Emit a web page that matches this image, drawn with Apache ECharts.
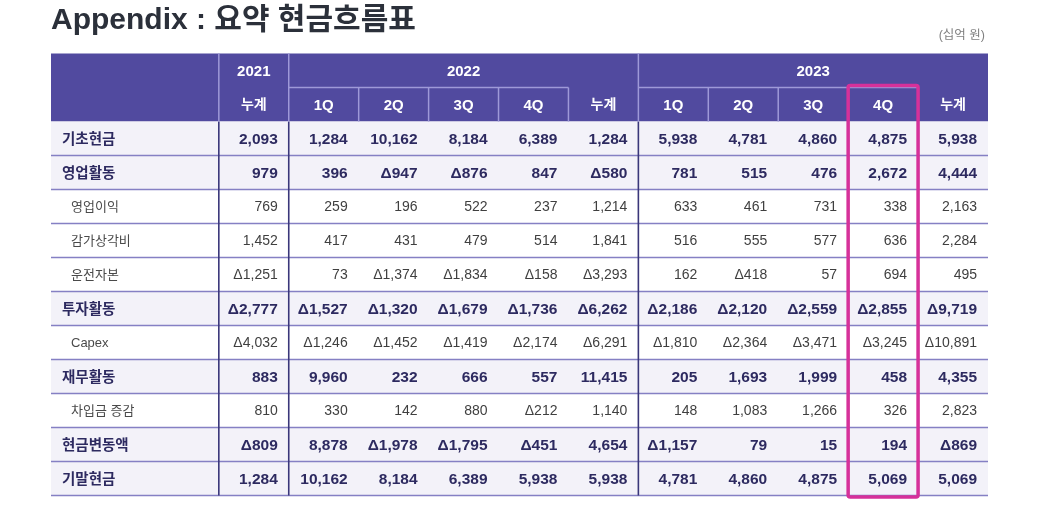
<!DOCTYPE html>
<html>
<head>
<meta charset="utf-8">
<script src="https://cdn.jsdelivr.net/npm/echarts@6/dist/echarts.min.js"></script>
<style>
html, body { margin: 0; padding: 0; background: #fff; }
#main { width: 1039px; height: 512px; }
</style>
</head>
<body>
<div id="main"></div>
<script>
// 표 데이터 (십억 원, 음수는 Δ 로 표시)
var yearLabels = ['2021', '2022', '2023'];
var yearSpans = [1, 5, 5];
var periodLabels = ['누계', '1Q', '2Q', '3Q', '4Q', '누계', '1Q', '2Q', '3Q', '4Q', '누계'];
var rowLabels = ['기초현금', '영업활동', '영업이익', '감가상각비', '운전자본', '투자활동', 'Capex', '재무활동', '차입금 증감', '현금변동액', '기말현금'];
var boldRows = [1, 1, 0, 0, 0, 1, 0, 1, 0, 1, 1];

var openingCash   = [2093, 1284, 10162, 8184, 6389, 1284, 5938, 4781, 4860, 4875, 5938];
var operating     = [979, 396, -947, -876, 847, -580, 781, 515, 476, 2672, 4444];
var opIncome      = [769, 259, 196, 522, 237, 1214, 633, 461, 731, 338, 2163];
var depreciation  = [1452, 417, 431, 479, 514, 1841, 516, 555, 577, 636, 2284];
var workingCap    = [-1251, 73, -1374, -1834, -158, -3293, 162, -418, 57, 694, 495];
var investing     = [-2777, -1527, -1320, -1679, -1736, -6262, -2186, -2120, -2559, -2855, -9719];
var capex         = [-4032, -1246, -1452, -1419, -2174, -6291, -1810, -2364, -3471, -3245, -10891];
var financing     = [883, 9960, 232, 666, 557, 11415, 205, 1693, 1999, 458, 4355];
var borrowings    = [810, 330, 142, 880, -212, 1140, 148, 1083, 1266, 326, 2823];
var cashChange    = [-809, 8878, -1978, -1795, -451, 4654, -1157, 79, 15, 194, -869];
var closingCash   = [1284, 10162, 8184, 6389, 5938, 5938, 4781, 4860, 4875, 5069, 5069];

var tableValues = [openingCash, operating, opIncome, depreciation, workingCap, investing,
  capex, financing, borrowings, cashChange, closingCash];
var highlightCol = 9; // 2023 4Q

var LABEL_W = 2.4;   // 항목 열 너비 (열 단위)
var HEAD_ROWS = 2;
var FONT = "'Liberation Sans', 'Noto Sans CJK KR', sans-serif";
var PURPLE = '#514a9f';

function fmt(v) {
  return (v < 0 ? 'Δ' : '') + Math.abs(v).toLocaleString('en-US');
}

// 셀 데이터
var rowBgData = rowLabels.map(function (l, i) { return [i, boldRows[i]]; });
var cellData = [];
tableValues.forEach(function (row, r) {
  row.forEach(function (v, c) { cellData.push([c, r, v, boldRows[r]]); });
});
var headerData = [];
var start = 0;
yearLabels.forEach(function (y, i) {
  headerData.push({ value: [start, start + yearSpans[i], 0, 1], name: y });
  start += yearSpans[i];
});
periodLabels.forEach(function (p, c) {
  headerData.push({ value: [c, c + 1, 1, 2], name: p });
});

// 선: [x0, y0, x1, y1, 종류]
var lineData = [];
for (var r = 1; r <= rowLabels.length; r++) {
  lineData.push([-LABEL_W, HEAD_ROWS + r, 11, HEAD_ROWS + r, 0]);
}
[0, 1, 6].forEach(function (x) {
  lineData.push([x, HEAD_ROWS, x, HEAD_ROWS + rowLabels.length, 1]);
  lineData.push([x, 0, x, HEAD_ROWS, 2]);
});
[2, 3, 4, 5, 7, 8, 9, 10].forEach(function (x) {
  lineData.push([x, 1, x, 2, 2]);
});
lineData.push([1, 1, 5, 1, 2]);
lineData.push([6, 1, 10, 1, 2]);

var lineStyles = [
  { stroke: '#8580c4', lineWidth: 1.6 },
  { stroke: '#3a377a', lineWidth: 1.6 },
  { stroke: '#9e99d8', lineWidth: 1.5 }
];

var myChart = echarts.init(document.getElementById('main'));
var option = {
  animation: false,
  title: [{
    text: 'Appendix : 요약 현금흐름표',
    left: 46,
    top: 1,
    textStyle: { fontSize: 30, fontWeight: 'bold', color: '#2b303a', fontFamily: FONT }
  }, {
    text: '(십억 원)',
    right: 49,
    top: 24,
    textStyle: { fontSize: 12.5, fontWeight: 'normal', color: '#808080', fontFamily: FONT }
  }],
  grid: { left: 51, right: 51, top: 53.5, bottom: 16.5 },
  xAxis: { type: 'value', min: -LABEL_W, max: 11, show: false },
  yAxis: { type: 'value', min: 0, max: HEAD_ROWS + rowLabels.length, inverse: true, show: false },
  series: [{
    // 헤더 배경
    type: 'custom',
    z: 1,
    data: [[0]],
    renderItem: function (params, api) {
      var p0 = api.coord([-LABEL_W, 0]);
      var p1 = api.coord([11, HEAD_ROWS]);
      return { type: 'rect', shape: { x: p0[0], y: p0[1], width: p1[0] - p0[0], height: p1[1] - p0[1] },
        style: { fill: PURPLE } };
    }
  }, {
    // 행 배경
    type: 'custom',
    z: 1,
    data: rowBgData,
    renderItem: function (params, api) {
      var r = api.value(0);
      var p0 = api.coord([-LABEL_W, HEAD_ROWS + r]);
      var p1 = api.coord([11, HEAD_ROWS + r + 1]);
      return { type: 'rect', shape: { x: p0[0], y: p0[1], width: p1[0] - p0[0], height: p1[1] - p0[1] },
        style: { fill: api.value(1) ? '#f3f2f9' : '#ffffff' } };
    }
  }, {
    // 선
    type: 'custom',
    z: 2,
    data: lineData,
    renderItem: function (params, api) {
      var a = api.coord([api.value(0), api.value(1)]);
      var b = api.coord([api.value(2), api.value(3)]);
      return { type: 'line', shape: { x1: a[0], y1: a[1], x2: b[0], y2: b[1] },
        style: lineStyles[api.value(4)] };
    }
  }, {
    // 헤더 텍스트
    type: 'custom',
    z: 3,
    data: headerData,
    renderItem: function (params, api) {
      var a = api.coord([api.value(0), api.value(2)]);
      var b = api.coord([api.value(1), api.value(3)]);
      var txt = headerData[params.dataIndex].name;
      var korean = /[가-힣]/.test(txt);
      return { type: 'text', style: {
        x: (a[0] + b[0]) / 2, y: (a[1] + b[1]) / 2 + 1, text: txt,
        align: 'center', verticalAlign: 'middle', fill: '#ffffff',
        fontSize: korean ? 14 : 15, fontWeight: 'bold', fontFamily: FONT } };
    }
  }, {
    // 항목명
    type: 'custom',
    z: 3,
    data: rowBgData,
    renderItem: function (params, api) {
      var r = api.value(0), bold = api.value(1);
      var p = api.coord([-LABEL_W, HEAD_ROWS + r + 0.5]);
      return { type: 'text', style: {
        x: p[0] + (bold ? 11 : 20), y: p[1] + 1, text: rowLabels[r],
        align: 'left', verticalAlign: 'middle', fill: bold ? '#2d2a60' : '#4a4a4a',
        fontSize: bold ? 14.5 : 13, fontWeight: bold ? 'bold' : 'normal', fontFamily: FONT } };
    }
  }, {
    // 수치
    type: 'custom',
    z: 3,
    data: cellData,
    renderItem: function (params, api) {
      var c = api.value(0), r = api.value(1), v = api.value(2), bold = api.value(3);
      var p = api.coord([c + 1, HEAD_ROWS + r + 0.5]);
      return { type: 'text', style: {
        x: p[0] - 11, y: p[1] + 1, text: fmt(v),
        align: 'right', verticalAlign: 'middle', fill: bold ? '#2d2a60' : '#3f3f3f',
        fontSize: bold ? 15.5 : 14, fontWeight: bold ? 'bold' : 'normal', fontFamily: FONT } };
    }
  }, {
    // 강조 박스
    type: 'custom',
    z: 4,
    data: [[highlightCol]],
    renderItem: function (params, api) {
      var c = api.value(0);
      var p0 = api.coord([c, 1]);
      var p1 = api.coord([c + 1, HEAD_ROWS + rowLabels.length]);
      return { type: 'rect',
        shape: { x: p0[0], y: p0[1] - 2, width: p1[0] - p0[0], height: p1[1] - p0[1] + 3.5, r: 2 },
        style: { fill: 'none', stroke: '#d6319a', lineWidth: 3.5 } };
    }
  }]
};
myChart.setOption(option);
</script>
</body>
</html>
